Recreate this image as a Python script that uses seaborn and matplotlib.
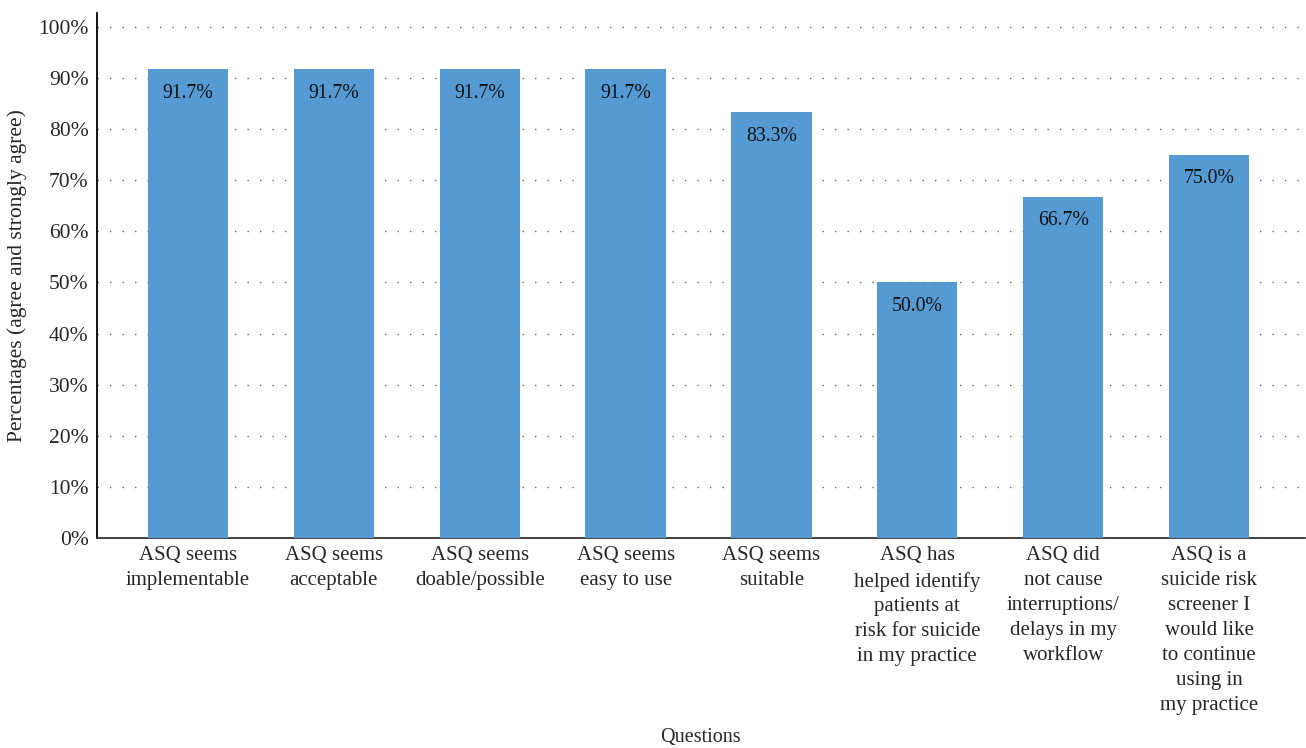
import matplotlib
matplotlib.use("Agg")
import matplotlib.pyplot as plt
import seaborn as sns
import pandas as pd

# Survey items and share of agree / strongly agree responses
questions = [
    "ASQ seems\nimplementable",
    "ASQ seems\nacceptable",
    "ASQ seems\ndoable/possible",
    "ASQ seems\neasy to use",
    "ASQ seems\nsuitable",
    "ASQ has\nhelped identify\npatients at\nrisk for suicide\nin my practice",
    "ASQ did\nnot cause\ninterruptions/\ndelays in my\nworkflow",
    "ASQ is a\nsuicide risk\nscreener I\nwould like\nto continue\nusing in\nmy practice",
]
percentages = [91.7, 91.7, 91.7, 91.7, 83.3, 50.0, 66.7, 75.0]
yticks = [0, 10, 20, 30, 40, 50, 60, 70, 80, 90, 100]

df = pd.DataFrame({"question": questions, "pct": percentages})

sns.set_style("white")
plt.rcParams["font.family"] = ["Liberation Serif", "DejaVu Serif"]

fig = plt.figure(figsize=(13.06, 7.48), dpi=100)
ax = fig.add_axes([0.0743, 0.2807, 0.9247, 0.7019])

sns.barplot(data=df, x="question", y="pct", color="#559AD3", saturation=1,
            width=0.55, linewidth=0, ax=ax, zorder=3)

# value labels inside the top of each bar
for cont in ax.containers:
    ax.bar_label(cont, labels=[f"{v:.1f}%" for v in percentages],
                 padding=-24, fontsize=14.2, color="#111111")

ax.set_ylim(0, 102.7)
ax.set_xlim(-0.624, 7.656)
ax.set_yticks(yticks)
ax.set_yticklabels([f"{t}%" for t in yticks], fontsize=15.5)
ax.set_xticks(range(len(questions)))
ax.set_xticklabels(questions, fontsize=15, va="top")
for lbl in ax.get_xticklabels():
    lbl.set_linespacing(1.42)
ax.tick_params(axis="both", length=0, pad=6)

ax.yaxis.grid(True, linestyle=(0, (1, 8)), color="#666666", linewidth=1, zorder=0)
ax.set_axisbelow(True)

for s in ["top", "right"]:
    ax.spines[s].set_visible(False)
ax.spines["left"].set_color("black")
ax.spines["bottom"].set_color("#333333")
ax.spines["left"].set_linewidth(1.3)
ax.spines["bottom"].set_linewidth(1.3)

ax.set_xlabel("Questions", fontsize=14.5)
ax.xaxis.set_label_coords(0.5, -0.362)
ax.set_ylabel("Percentages (agree and strongly agree)", fontsize=15.5)
ax.yaxis.set_label_coords(-0.058, 0.5)

fig.savefig("out.png", dpi=100)
